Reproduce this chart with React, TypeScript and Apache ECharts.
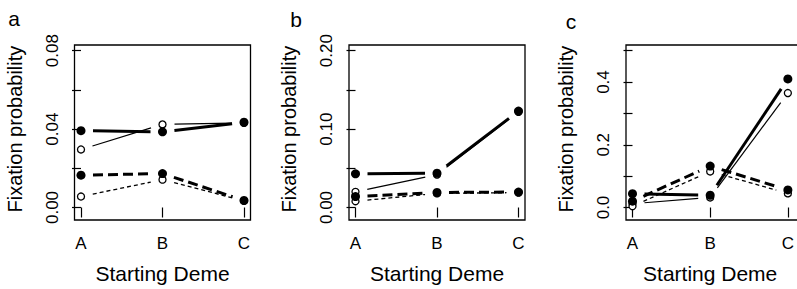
import React, { useEffect, useRef } from "react";
import * as echarts from "echarts";

const categories = ["A", "B", "C"];

// Panel a
const aThickSolid = [0.0392, 0.0386, 0.0435];
const aThinSolid = [0.0296, 0.0424, 0.0432];
const aThickDashed = [0.0165, 0.0173, 0.0036];
const aThinDashed = [0.0056, 0.0142, 0.0034];
const aTicks = { max: 0.08, step: 0.02, digits: 2 };

// Panel b
const bThickSolid = [0.043, 0.0438, 0.123];
const bThinSolid = [0.02, 0.042, 0.122];
const bThickDashed = [0.014, 0.0192, 0.0197];
const bThinDashed = [0.008, 0.018, 0.019];
const bTicks = { max: 0.2, step: 0.05, digits: 2 };

// Panel c
const cThickSolid = [0.044, 0.039, 0.41];
const cThinSolid = [0.012, 0.032, 0.365];
const cThickDashed = [0.02, 0.132, 0.056];
const cThinDashed = [0.004, 0.115, 0.045];
const cTicks = { max: 0.5, step: 0.1, digits: 1 };

const panelLetters = ["a", "b", "c"];
const yTitle = "Fixation probability";
const xTitle = "Starting Deme";

const FONT = "'Liberation Sans', Arial, Helvetica, sans-serif";

const styles = {
  thickSolid: { lineWidth: 3, lineDash: null as any, symbol: "circle", size: 9, filled: true },
  thinSolid: { lineWidth: 1.2, lineDash: null as any, symbol: "circle", size: 7, filled: false },
  thickDashed: { lineWidth: 3, lineDash: [10, 5], symbol: "circle", size: 9, filled: true },
  thinDashed: { lineWidth: 1.3, lineDash: [4, 3], symbol: "circle", size: 7, filled: false },
};

const GAP = 12;

function segSeries(values: number[], st: any, idx: number) {
  const data = values.slice(0, -1).map((v, i) => [i, v, i + 1, values[i + 1]]);
  return {
    type: "custom",
    xAxisIndex: idx,
    yAxisIndex: idx,
    z: 2,
    silent: true,
    encode: { x: [0, 2], y: [1, 3] },
    data,
    renderItem: (params: any, api: any) => {
      const p1 = api.coord([api.value(0), api.value(1)]);
      const p2 = api.coord([api.value(2), api.value(3)]);
      const dx = p2[0] - p1[0];
      const dy = p2[1] - p1[1];
      const len = Math.hypot(dx, dy);
      if (len <= 2 * GAP) return null;
      const ux = dx / len;
      const uy = dy / len;
      return {
        type: "line",
        shape: {
          x1: p1[0] + ux * GAP,
          y1: p1[1] + uy * GAP,
          x2: p2[0] - ux * GAP,
          y2: p2[1] - uy * GAP,
        },
        style: {
          stroke: "#000",
          lineWidth: st.lineWidth,
          lineDash: st.lineDash || undefined,
          fill: null,
        },
      };
    },
  };
}

function pointSeries(values: number[], st: any, idx: number) {
  return {
    type: "scatter",
    xAxisIndex: idx,
    yAxisIndex: idx,
    z: st.filled ? 4 : 3,
    silent: true,
    symbol: st.symbol,
    symbolSize: st.size,
    itemStyle: st.filled
      ? { color: "#000", opacity: 1 }
      : { color: "#fff", borderColor: "#000", borderWidth: 1.3, opacity: 1 },
    emphasis: { disabled: true },
    data: values.map((v, i) => [i, v]),
  };
}

const panels = [
  { lines: [aThickSolid, aThinSolid, aThickDashed, aThinDashed], ticks: aTicks },
  { lines: [bThickSolid, bThinSolid, bThickDashed, bThinDashed], ticks: bTicks },
  { lines: [cThickSolid, cThinSolid, cThickDashed, cThinDashed], ticks: cTicks },
];
const styleOrder = [styles.thickSolid, styles.thinSolid, styles.thickDashed, styles.thinDashed];

// layout
const gridLefts = [81, 355.5, 632.5];
const gridWidth = 163;
const gridTop = 50.7;
const gridBottomY = 213.5;
const pad = 6.5;
const letterPos = [
  [14, 18],
  [296, 19],
  [571, 21],
];

export default function App() {
  const ref = useRef<HTMLDivElement>(null);
  useEffect(() => {
    if (!ref.current) return;
    const chart = echarts.init(ref.current, null, { renderer: "svg" });
    const grid = gridLefts.map((l) => ({
      left: l,
      top: gridTop,
      width: gridWidth,
      height: gridBottomY - gridTop,
    }));
    const xAxis = gridLefts.map((_, i) => ({
      type: "value",
      gridIndex: i,
      min: 0,
      max: categories.length - 1,
      interval: 1,
      offset: pad,
      axisLine: { show: false },
      splitLine: { show: false },
      axisTick: { show: true, length: 10, lineStyle: { color: "#000", width: 1.2 } },
      axisLabel: {
        margin: 21,
        fontSize: 17,
        fontFamily: FONT,
        color: "#000",
        formatter: (v: number) => categories[Math.round(v)] ?? "",
      },
      name: xTitle,
      nameLocation: "middle",
      nameGap: 49,
      nameTextStyle: { fontSize: 21, fontFamily: FONT, color: "#000" },
    }));
    const yAxis = panels.map((p, i) => ({
      type: "value",
      gridIndex: i,
      min: 0,
      max: p.ticks.max,
      interval: p.ticks.step,
      offset: pad,
      axisLine: { show: false },
      splitLine: { show: false },
      axisTick: { show: true, length: 9, lineStyle: { color: "#000", width: 1.2 } },
      axisLabel: {
        rotate: 90,
        margin: 14,
        fontSize: 17,
        fontFamily: FONT,
        color: "#000",
        formatter: (v: number, idx: number) => (idx % 2 === 0 ? v.toFixed(p.ticks.digits) : ""),
      },
      name: yTitle,
      nameLocation: "middle",
      nameRotate: 90,
      nameGap: 50,
      nameTextStyle: { fontSize: 20, fontFamily: FONT, color: "#000" },
    }));
    const series: any[] = [];
    panels.forEach((p, i) => {
      p.lines.forEach((vals, k) => {
        series.push(segSeries(vals, styleOrder[k], i));
        series.push(pointSeries(vals, styleOrder[k], i));
      });
    });
    const graphic: any[] = [];
    gridLefts.forEach((l, i) => {
      graphic.push({
        type: "rect",
        shape: { x: l - pad, y: gridTop - 5.7, width: gridWidth + 2 * pad, height: gridBottomY + pad - (gridTop - 5.7) },
        style: { fill: null, stroke: "#000", lineWidth: 1.3 },
        z: 10,
        silent: true,
      });
      graphic.push({
        type: "text",
        x: letterPos[i][0],
        y: letterPos[i][1],
        style: {
          text: panelLetters[i],
          fontSize: 21,
          fontFamily: FONT,
          fill: "#000",
          align: "center",
          verticalAlign: "middle",
        },
      });
    });
    chart.setOption({
      animation: false,
      backgroundColor: "#fff",
      grid,
      xAxis,
      yAxis,
      series,
      graphic,
    });
    return () => chart.dispose();
  }, []);
  return <div ref={ref} style={{ width: 797, height: 289, position: "absolute", left: 0, top: 0 }} />;
}
